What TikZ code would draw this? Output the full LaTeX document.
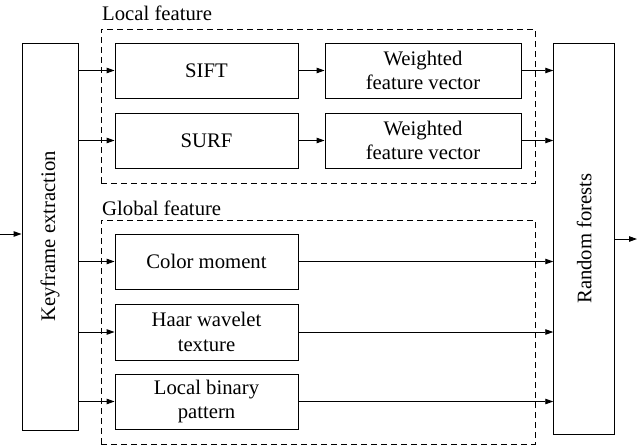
\documentclass[tikz,border=0pt]{standalone}
\usepackage{fontspec}
\setmainfont{Liberation Serif}
\usetikzlibrary{arrows.meta}
\begin{document}
\begin{tikzpicture}[x=1pt,y=-1pt,
  every node/.style={font=\fontsize{20.7}{24.5}\selectfont},
  blk/.style={draw, line width=0.9pt, inner sep=0pt, align=center, minimum width=183pt, minimum height=55pt},
  wblk/.style={blk, minimum width=196pt},
  grp/.style={draw, dashed, dash pattern=on 6pt off 4pt, line width=0.8pt, inner sep=0pt},
  arr/.style={line width=0.9pt, -{Triangle[length=8pt,width=5.5pt]}},
  lab/.style={anchor=base west, inner sep=0pt}]
\useasboundingbox (0,0) rectangle (637,447);
% groups
\node[grp, minimum width=434pt, minimum height=154pt] (local) at (318,106) {};
\node[grp, minimum width=434pt, minimum height=224pt] (global) at (318,332) {};
\node[lab] (loclab) at (102,20) {Local feature};
\node[lab] (globlab) at (102,215) {Global feature};
% main blocks
\node[draw, line width=0.9pt, inner sep=0pt, minimum width=56pt, minimum height=387pt] (kf) at (50,236.5) {};
\node[rotate=90] (kftext) at (kf.center) {Keyframe extraction};
\node[draw, line width=0.9pt, inner sep=0pt, minimum width=61pt, minimum height=391pt] (rf) at (584.2,238.5) {};
\node[rotate=90] (rftext) at (rf.center) {Random forests};
% feature blocks
\node[blk] (sift) at (206.5,70.5) {SIFT};
\node[blk] (surf) at (206.5,140.5) {SURF};
\node[wblk] (w1) at (423,70.5) {Weighted\\feature vector};
\node[wblk] (w2) at (423,140.5) {Weighted\\feature vector};
\node[blk] (color) at (206.5,261.5) {Color moment};
\node[blk, minimum height=56pt] (haar) at (206.5,332) {Haar wavelet\\texture};
\node[blk] (lbp) at (206.5,401.5) {Local binary\\pattern};
% in / out
\coordinate (in) at (0,234);
\coordinate (out) at (637,239);
\draw[arr] (in) -- (in -| kf.west);
\draw[arr] (rf.east |- out) -- (out);
% keyframe to features
\foreach \b in {sift,surf,color,haar,lbp}
  \draw[arr] (kf.east |- \b.west) -- (\b.west);
\draw[arr] (sift.east) -- (w1.west);
\draw[arr] (surf.east) -- (w2.west);
\foreach \b in {w1,w2,color,haar,lbp}
  \draw[arr] (\b.east) -- (\b.east -| rf.west);
\end{tikzpicture}
\end{document}
